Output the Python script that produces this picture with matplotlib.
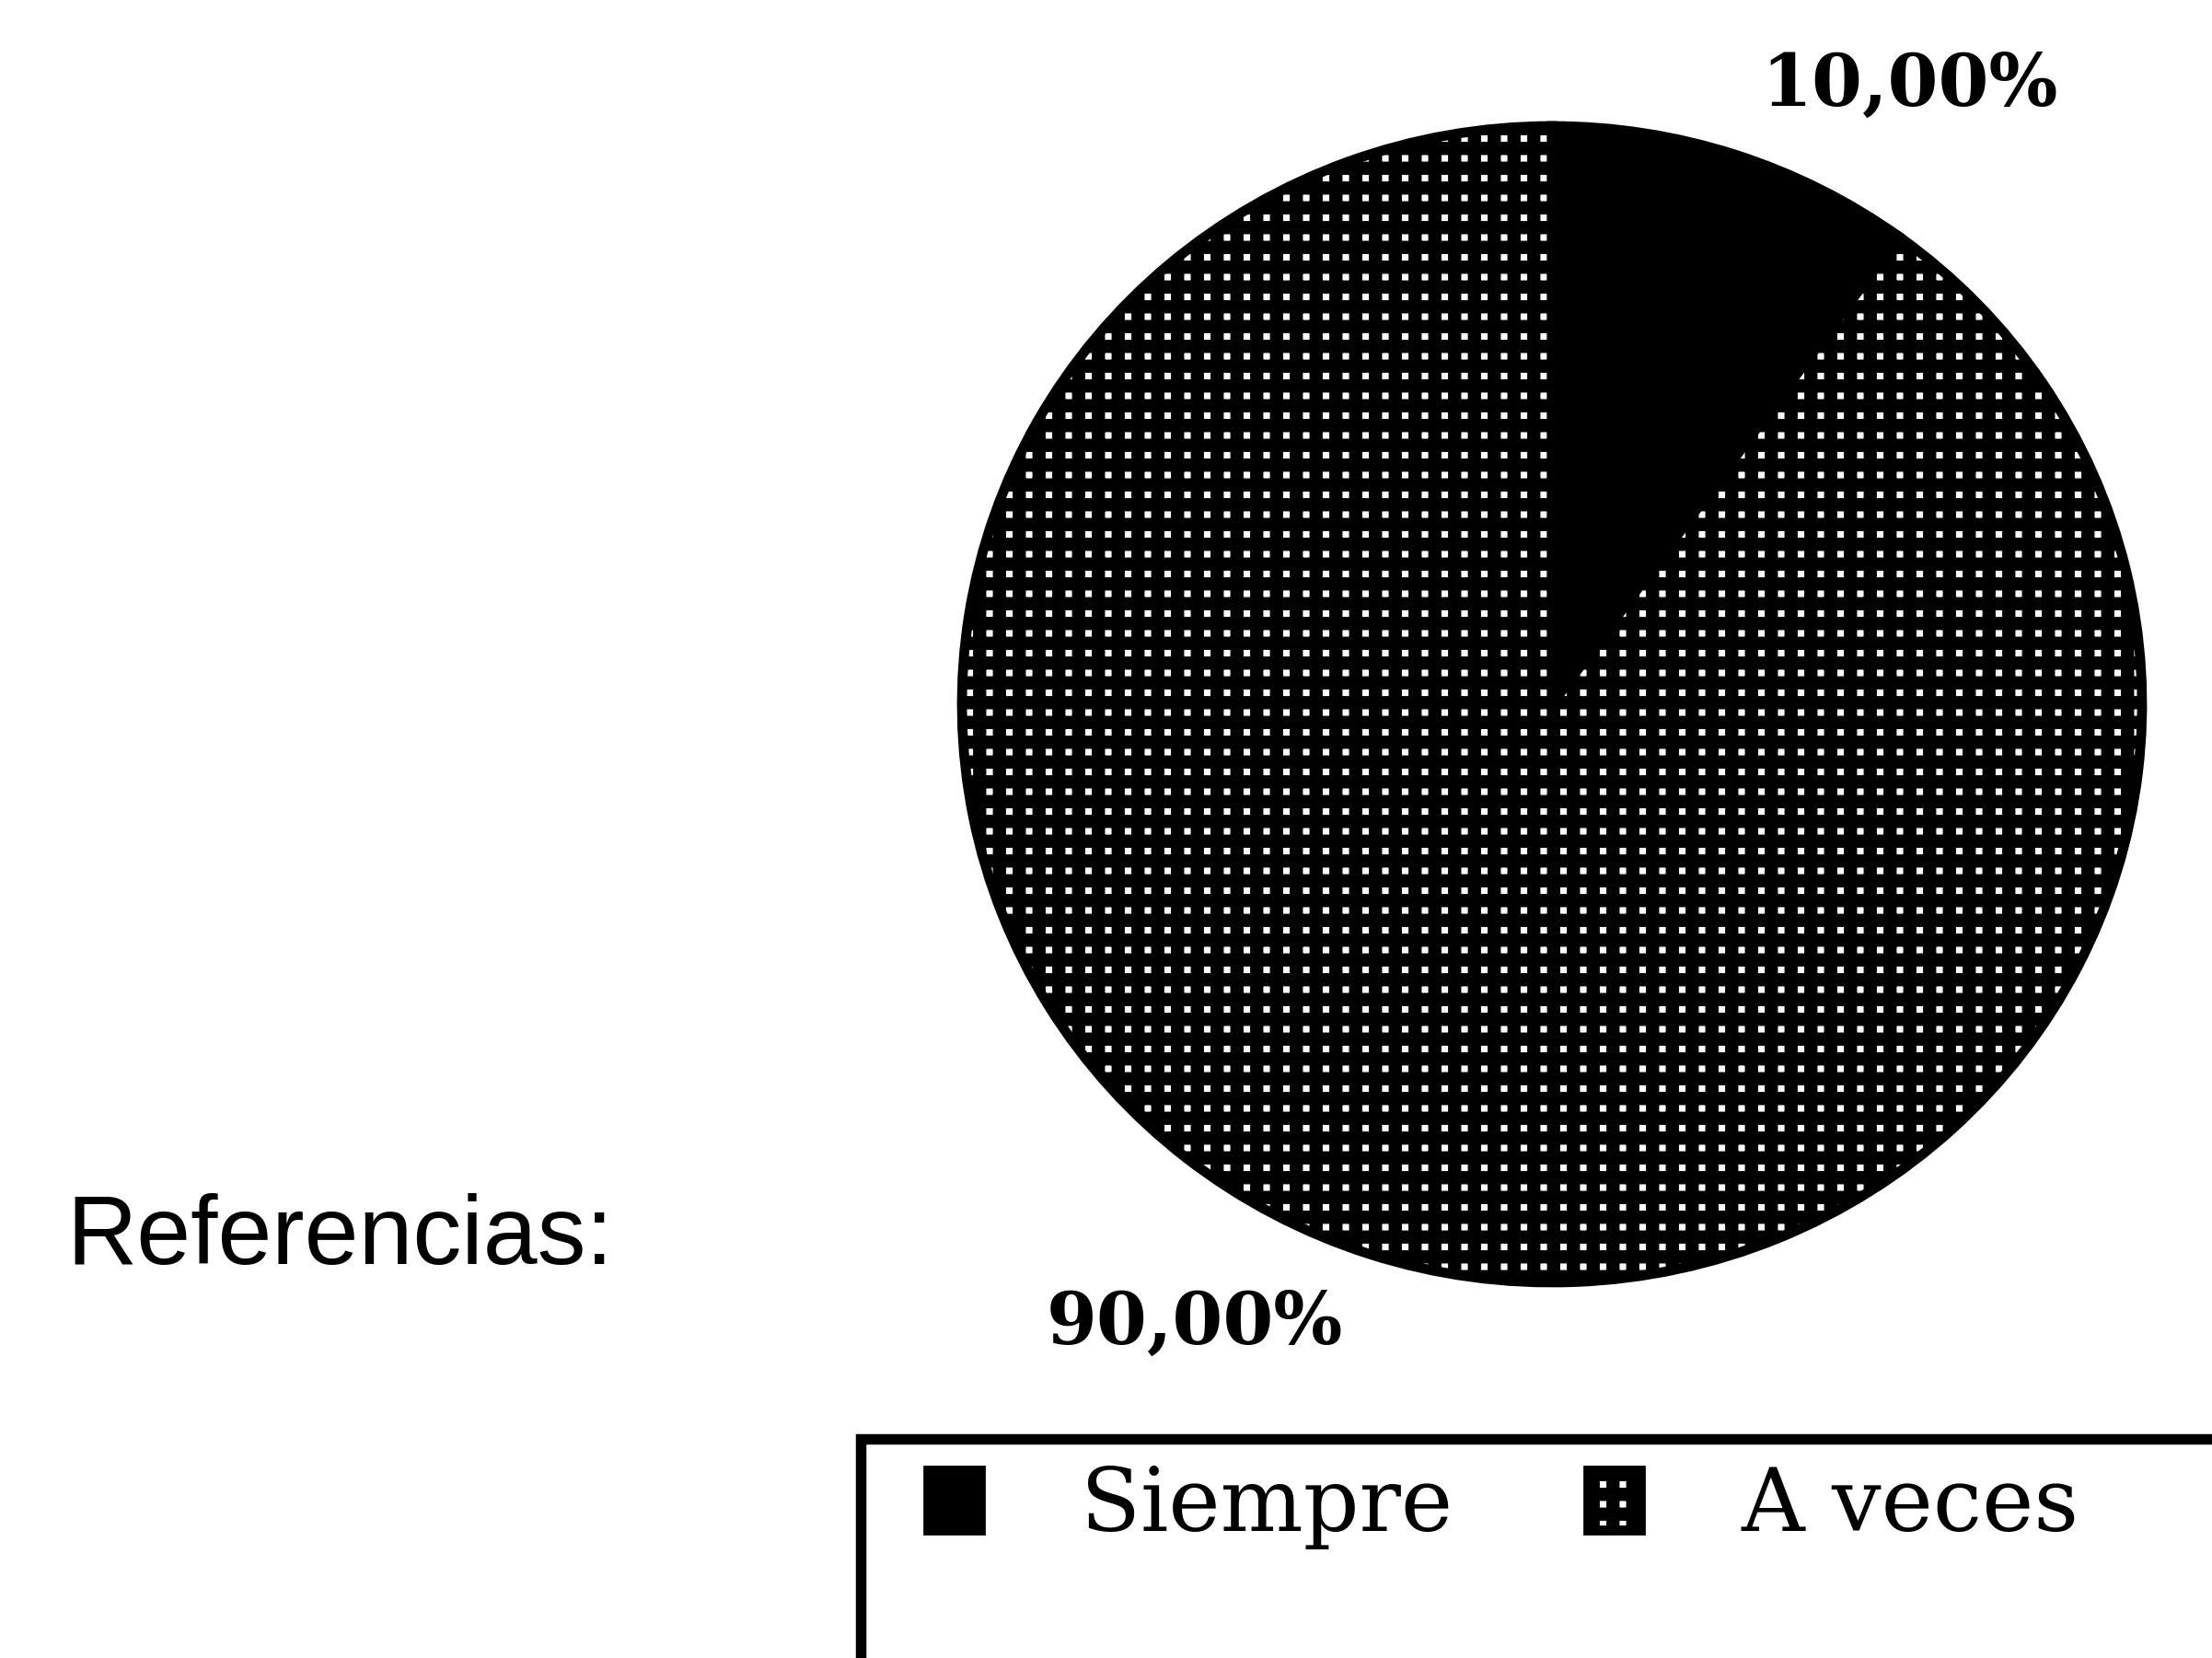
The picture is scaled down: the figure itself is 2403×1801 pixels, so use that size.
import matplotlib
matplotlib.use("Agg")
import matplotlib.pyplot as plt
from matplotlib.patches import Rectangle
import numpy as np

# data
labels = ["Siempre", "A veces"]
values = [10, 90]
colors = ["black", "white"]
hatches = ["", "++"]

W, H = 2403, 1801
DPI = 258
plt.rcParams["hatch.linewidth"] = 4.0
plt.rcParams["hatch.color"] = "black"

fig = plt.figure(figsize=(W / DPI, H / DPI), dpi=DPI)
fig.patch.set_facecolor("white")

# pie axes placed in pixel terms (center 1686,765 ; radii 641 x 628)
cx, cy, rx, ry = 1686, 765, 641, 628
ax = fig.add_axes([(cx - rx) / W, 1 - (cy + ry) / H, 2 * rx / W, 2 * ry / H])

wedges, texts, autotexts = ax.pie(
    values, colors=colors, startangle=90, counterclock=False,
    autopct=lambda p: f"{p:.2f}%".replace(".", ","),
    wedgeprops=dict(edgecolor="black", linewidth=3),
    textprops=dict(family="DejaVu Serif", fontweight="bold", fontsize=22),
)
for w, h in zip(wedges, hatches):
    w.set_hatch(h)

ax.set_aspect("auto")
ax.set_xlim(-1, 1)
ax.set_ylim(-1, 1)
ax.axis("off")

# percent labels sit outside, a little rotated from the wedge middle
for w, t in zip(wedges, autotexts):
    ang = np.deg2rad((w.theta1 + w.theta2) / 2 - 11.5)
    t.set_position((1.23 * np.cos(ang), 1.23 * np.sin(ang)))
    t.set_ha("center")
    t.set_va("center")
    t.set_clip_on(False)

fig.text(369 / W, 1 - 1345 / H, "Referencias:", family="Liberation Sans",
         fontsize=29.5, ha="center", va="center")

leg = fig.legend(
    wedges, labels, ncol=2, frameon=False, loc="upper left",
    bbox_to_anchor=(1008 / W, 1 - 1590 / H), borderaxespad=0, borderpad=0,
    prop=dict(family="DejaVu Serif", size=26.5),
    handlelength=0.6, handleheight=0.67, handletextpad=1.15, columnspacing=1.55,
)

# legend box runs off the right and bottom edges
fig.add_artist(Rectangle((935 / W, -0.1), 1.0, 0.1 + (1 - 1563 / H),
                         transform=fig.transFigure, fill=False,
                         edgecolor="black", linewidth=3.2, clip_on=False))

fig.savefig("out.png", dpi=DPI, facecolor="white")
